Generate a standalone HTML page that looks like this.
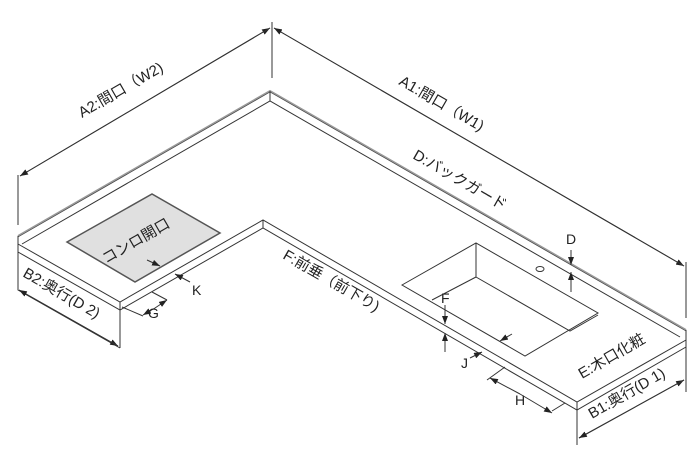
<!DOCTYPE html>
<html><head><meta charset="utf-8"><style>
html,body{margin:0;padding:0;background:#fff;}
svg{display:block}
text{font-family:"Liberation Sans","Noto Sans CJK JP",sans-serif;font-size:15px;fill:#222}
text.s{font-size:14px}
</style></head><body>
<svg width="700" height="464" viewBox="0 0 700 464" xmlns="http://www.w3.org/2000/svg">
<defs>
<marker id="a" markerWidth="8" markerHeight="6" refX="8" refY="3" orient="auto" markerUnits="userSpaceOnUse"><path d="M0,0 L8,3 L0,6 z" fill="#222"/></marker>
</defs>
<g stroke="#333" stroke-width="1" fill="none">
<path d="M18,236 L270,91 L686,330" stroke="#999" stroke-width="2"/>
<path d="M18,237 L270,92 L686,331" stroke="#444" stroke-width="0.7"/>
<path d="M22,244 L270,101 L680,337"/>
<line x1="270" y1="91" x2="270" y2="101"/>
<path d="M18,236 L18,290 L120,348"/>
<path d="M18,244 L120,302 L263,220 L577,402 L686,340 L686,330"/>
<path d="M18,252 L120,310 L263,228 L577,410 L686,347 L686,340"/>
<line x1="120" y1="302" x2="120" y2="348"/>
<line x1="263" y1="220" x2="263" y2="228"/>
<line x1="577" y1="402" x2="577" y2="445"/>
<line x1="686" y1="347" x2="686" y2="392"/>
<path d="M67,242 L152,194 L220,233 L135,282 Z" fill="#e0e0e0" stroke="#555" stroke-width="1.5"/>
<path d="M402,285 L476,243 L598,313 L525,356 Z"/>
<path d="M476,243 L476,277 L570,331 L598,315"/>
<path d="M432,300 L476,277"/>
<ellipse cx="540" cy="269" rx="4" ry="2.5"/>
<line x1="18" y1="175" x2="18" y2="225"/>
<line x1="272" y1="22" x2="272" y2="78"/>
<line x1="686" y1="262" x2="686" y2="318"/>
<line x1="20" y1="176" x2="270" y2="28" marker-end="url(#a)"/>
<line x1="270" y1="28" x2="20" y2="176" marker-end="url(#a)"/>
<line x1="274" y1="28" x2="684" y2="266" marker-end="url(#a)"/>
<line x1="684" y1="266" x2="274" y2="28" marker-end="url(#a)"/>
<line x1="19" y1="290" x2="118" y2="346" marker-end="url(#a)"/>
<line x1="118" y1="346" x2="19" y2="290" marker-end="url(#a)"/>
<line x1="579" y1="438" x2="684" y2="380" marker-end="url(#a)"/>
<line x1="684" y1="380" x2="579" y2="438" marker-end="url(#a)"/>
<path d="M122,307 L143,316 M152,292 L167,300"/>
<line x1="155" y1="308" x2="143" y2="315" marker-end="url(#a)"/>
<line x1="155" y1="308" x2="167" y2="300" marker-end="url(#a)"/>
<line x1="147" y1="260" x2="160" y2="266" marker-end="url(#a)"/>
<line x1="190" y1="282" x2="175" y2="274" marker-end="url(#a)"/>
<line x1="571" y1="250" x2="571" y2="265" marker-end="url(#a)"/>
<line x1="571" y1="292" x2="571" y2="272" marker-end="url(#a)"/>
<line x1="445" y1="305" x2="445" y2="324" marker-end="url(#a)"/>
<line x1="445" y1="352" x2="445" y2="333" marker-end="url(#a)"/>
<line x1="512" y1="334" x2="500" y2="341" marker-end="url(#a)"/>
<line x1="470" y1="358" x2="482" y2="352" marker-end="url(#a)"/>
<path d="M487,380 L505,367 M552,411 L565,403"/>
<line x1="520" y1="394" x2="490" y2="378" marker-end="url(#a)"/>
<line x1="520" y1="394" x2="552" y2="413" marker-end="url(#a)"/>
</g>
<g>
<text transform="translate(82,118) rotate(-30)">A2:間口（W2)</text>
<text transform="translate(398,84) rotate(30)">A1:間口（W1)</text>
<text transform="translate(412,158) rotate(30)">D:バックガード</text>
<text transform="translate(106,264) rotate(-30)">コンロ開口</text>
<text transform="translate(282,258) rotate(30)">F:前垂（前下り)</text>
<text transform="translate(22,276) rotate(30)">B2:奥行(D 2)</text>
<text transform="translate(592,419) rotate(-30)">B1:奥行(D 1)</text>
<text transform="translate(582,379) rotate(-30)">E:木口化粧</text>
<text class="s" x="192" y="295">K</text>
<text class="s" x="148" y="318">G</text>
<text class="s" x="566" y="244">D</text>
<text class="s" x="441" y="303">F</text>
<text class="s" x="461" y="368">J</text>
<text class="s" x="515" y="405">H</text>
</g>
</svg>
</body></html>
